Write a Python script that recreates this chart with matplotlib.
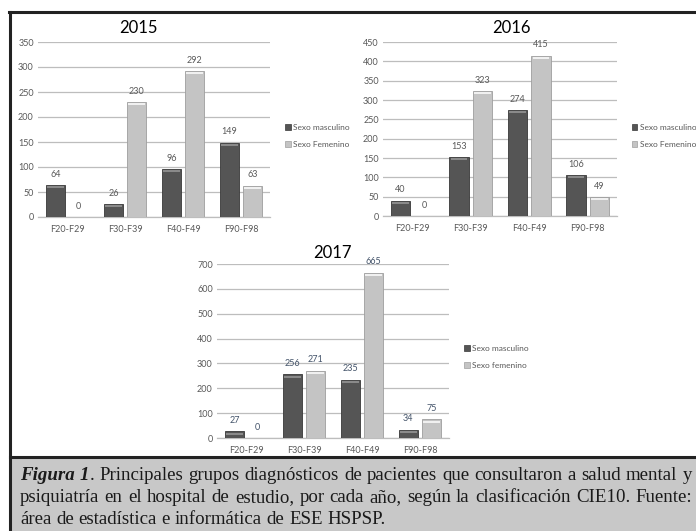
import matplotlib
matplotlib.use("Agg")
import matplotlib.pyplot as plt
from matplotlib.patches import Rectangle, Patch
from matplotlib.lines import Line2D
import numpy as np

plt.rcParams['font.family'] = ['Lato', 'DejaVu Sans']

categorias = ["F20-F29", "F30-F39", "F40-F49", "F90-F98"]

masc_2015 = [64, 26, 96, 149]
fem_2015 = [0, 230, 292, 63]
masc_2016 = [40, 153, 274, 106]
fem_2016 = [0, 323, 415, 49]
masc_2017 = [27, 256, 235, 34]
fem_2017 = [0, 271, 665, 75]

W, H = 696, 531
fig = plt.figure(figsize=(W / 100, H / 100), dpi=100)
fig.patch.set_facecolor("white")

MASC = "#555555"
MASC_EDGE = "#383838"
FEM = "#c4c4c4"
FEM_EDGE = "#9e9e9e"
GRID = "#bdbdbd"
TXT = "#595959"


def box(left, top, right, bottom):
    # pixel box -> figure fraction rect
    return [left / W, 1 - bottom / H, (right - left) / W, (bottom - top) / H]


def panel(rect, masc, fem, ymax, step, title, title_xy, leg_xy, fem_label, lab_color):
    ax = fig.add_axes(rect)
    x = np.arange(len(categorias))
    bw = 0.33
    ax.bar(x - 0.2, masc, bw, color=MASC, edgecolor=MASC_EDGE, linewidth=0.6, zorder=3)
    ax.bar(x + 0.2, fem, bw, color=FEM, edgecolor=FEM_EDGE, linewidth=0.6, zorder=3)
    # bevel highlight on top of bars
    hl = ymax * 0.012
    for vals, off, c in [(masc, -0.2, "#8a8a8a"), (fem, 0.2, "#f0f0f0")]:
        v = np.array(vals, dtype=float)
        m = v > hl
        ax.bar(x[m] + off, hl, bw * 0.85, bottom=v[m] - hl * 1.6, color=c,
               linewidth=0, zorder=4)
    for xs, vals in [(x - 0.2, masc), (x + 0.2, fem)]:
        for xi, v in zip(xs, vals):
            ax.annotate(str(v), (xi, v), xytext=(0, 4.5), textcoords="offset points",
                        ha="center", va="bottom", fontsize=6.5, color=lab_color)
    ax.set_ylim(0, ymax)
    ax.set_xlim(-0.5, len(categorias) - 0.5)
    ax.set_yticks(np.arange(0, ymax + 1, step))
    ax.set_xticks(x)
    ax.set_xticklabels(categorias)
    ax.tick_params(axis="both", length=0, labelsize=6.5, colors=TXT)
    ax.tick_params(axis="x", pad=6)
    ax.tick_params(axis="y", pad=3)
    ax.grid(axis="y", color=GRID, linewidth=0.9, zorder=0)
    for s in ["left", "right", "top"]:
        ax.spines[s].set_visible(False)
    ax.spines["bottom"].set_color(GRID)
    ax.spines["bottom"].set_linewidth(0.9)
    ax.set_facecolor("none")
    ax.text(title_xy[0], title_xy[1], title, transform=ax.transAxes, ha="center",
            va="center", fontsize=12, color="black")
    handles = [Patch(facecolor=MASC, edgecolor=MASC_EDGE, linewidth=0.5),
               Patch(facecolor=FEM, edgecolor=FEM_EDGE, linewidth=0.5)]
    ax.legend(handles, ["Sexo masculino", fem_label], loc="center left",
              bbox_to_anchor=leg_xy, frameon=False, fontsize=6, labelcolor=TXT,
              handlelength=0.7, handleheight=0.7, handletextpad=0.3,
              labelspacing=1.15, borderpad=0, borderaxespad=0)
    return ax


panel(box(38, 42, 270, 217), masc_2015, fem_2015, 350, 50, "2015",
      (0.431, 1.08), (1.065, 0.463), "Sexo Femenino", TXT)
panel(box(383, 42, 617, 216), masc_2016, fem_2016, 450, 50, "2016",
      (0.551, 1.08), (1.062, 0.46), "Sexo Femenino", TXT)
panel(box(217, 264, 449, 438), masc_2017, fem_2017, 700, 100, "2017",
      (0.496, 1.063), (1.065, 0.466), "Sexo femenino", "#44546a")

# caption area
fig.add_artist(Rectangle((10 / W, 0), 1, 1 - 458 / H, transform=fig.transFigure,
                         facecolor="#c8c8c8", edgecolor="none", zorder=0))
lw = 2.2
fig.add_artist(Line2D([9 / W, 1], [1 - 12 / H, 1 - 12 / H], transform=fig.transFigure,
                      color="#222222", linewidth=lw))
fig.add_artist(Line2D([10 / W, 10 / W], [0, 1 - 12 / H], transform=fig.transFigure,
                      color="#222222", linewidth=lw))
fig.add_artist(Line2D([10 / W, 1], [1 - 457 / H, 1 - 457 / H], transform=fig.transFigure,
                      color="#222222", linewidth=lw))

# justified caption text
cap_lines = [
    [[("Figura", "bi")], [("1", "bi"), (".", "r")], [("Principales", "r")], [("grupos", "r")],
     [("diagnósticos", "r")], [("de", "r")], [("pacientes", "r")], [("que", "r")],
     [("consultaron", "r")], [("a", "r")], [("salud", "r")], [("mental", "r")], [("y", "r")]],
    [[(w, "r")] for w in "psiquiatría en el hospital de estudio, por cada año, según la clasificación CIE10. Fuente:".split()],
    [[(w, "r")] for w in "área de estadística e informática de ESE HSPSP.".split()],
]
cap_y = [476, 498, 519]
x0, x1 = 20, 692
fs = 13.6
renderer = fig.canvas.get_renderer()


def make(s, style, x, y):
    kw = dict(fontsize=fs, family="Liberation Serif", color="#1a1a1a",
              va="center", ha="left", transform=None)
    if style == "bi":
        kw.update(fontweight="bold", fontstyle="italic")
    t = fig.text(x, y, s, **kw)
    return t


def width_of(t):
    return t.get_window_extent(renderer).width


for i, (words, yy) in enumerate(zip(cap_lines, cap_y)):
    ypx = H - yy
    objs = []
    total = 0
    for w in words:
        runs = []
        ww = 0
        for s, st in w:
            t = make(s, st, 0, ypx)
            wd = width_of(t)
            runs.append((t, wd))
            ww += wd
        objs.append((runs, ww))
        total += ww
    if i < len(cap_lines) - 1:
        gap = (x1 - x0 - total) / (len(words) - 1)
    else:
        ta = make("a a", "r", 0, ypx)
        tb = make("a", "r", 0, ypx)
        gap = width_of(ta) - 2 * width_of(tb)
        ta.remove()
        tb.remove()
    x = x0
    for runs, ww in objs:
        for t, wd in runs:
            t.set_x(x)
            x += wd
        x += gap

fig.savefig("out.png", dpi=100)
